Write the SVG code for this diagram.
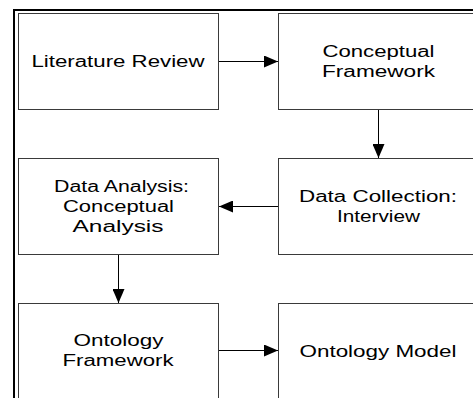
<svg xmlns="http://www.w3.org/2000/svg" width="473" height="398" viewBox="0 0 473 398">
<style>
.box{fill:#fff;stroke:#3a3a3a;stroke-width:1}
.t{font-family:"Liberation Sans",Arial,sans-serif;font-size:16px;fill:#000;text-anchor:middle}
.c{stroke:#000;stroke-width:1;fill:none}
.frame{fill:none;stroke:#000;stroke-width:2}
</style>
<defs>
<marker id="ah" markerUnits="userSpaceOnUse" markerWidth="15" markerHeight="12" refX="14" refY="6" orient="auto">
<path d="M0,0 L14,6 L0,12 Z" fill="#000"/>
</marker>
</defs>
<rect class="frame" x="14" y="10" width="520" height="420"/>
<g id="literature-review">
<rect class="box" x="18.5" y="13.5" width="200" height="96"/>
<text class="t" x="118" y="67" textLength="173" lengthAdjust="spacingAndGlyphs">Literature Review</text>
</g>
<g id="conceptual-framework">
<rect class="box" x="278.5" y="13.5" width="200" height="96"/>
<text class="t" x="378.5" y="57" textLength="112" lengthAdjust="spacingAndGlyphs">Conceptual</text>
<text class="t" x="378.5" y="77" textLength="113" lengthAdjust="spacingAndGlyphs">Framework</text>
</g>
<g id="data-analysis">
<rect class="box" x="18.5" y="158.5" width="200" height="96"/>
<text class="t" x="121.5" y="192" textLength="135" lengthAdjust="spacingAndGlyphs">Data Analysis:</text>
<text class="t" x="118.5" y="212" textLength="111" lengthAdjust="spacingAndGlyphs">Conceptual</text>
<text class="t" x="118" y="232" textLength="91" lengthAdjust="spacingAndGlyphs">Analysis</text>
</g>
<g id="data-collection">
<rect class="box" x="278.5" y="158.5" width="200" height="96"/>
<text class="t" x="378" y="202" textLength="158" lengthAdjust="spacingAndGlyphs">Data Collection:</text>
<text class="t" x="378.5" y="222" textLength="83" lengthAdjust="spacingAndGlyphs">Interview</text>
</g>
<g id="ontology-framework">
<rect class="box" x="18.5" y="303.5" width="200" height="96"/>
<text class="t" x="118.5" y="346" textLength="90" lengthAdjust="spacingAndGlyphs">Ontology</text>
<text class="t" x="118" y="366" textLength="111" lengthAdjust="spacingAndGlyphs">Framework</text>
</g>
<g id="ontology-model">
<rect class="box" x="278.5" y="303.5" width="200" height="96"/>
<text class="t" x="378" y="357" textLength="157" lengthAdjust="spacingAndGlyphs">Ontology Model</text>
</g>
<g id="connectors">
<line class="c" x1="219" y1="61.5" x2="278" y2="61.5" marker-end="url(#ah)"/>
<line class="c" x1="378.5" y1="110" x2="378.5" y2="158" marker-end="url(#ah)"/>
<line class="c" x1="278" y1="206.5" x2="219" y2="206.5" marker-end="url(#ah)"/>
<line class="c" x1="118.5" y1="255" x2="118.5" y2="303" marker-end="url(#ah)"/>
<line class="c" x1="219" y1="350.5" x2="278" y2="350.5" marker-end="url(#ah)"/>
</g>
</svg>
